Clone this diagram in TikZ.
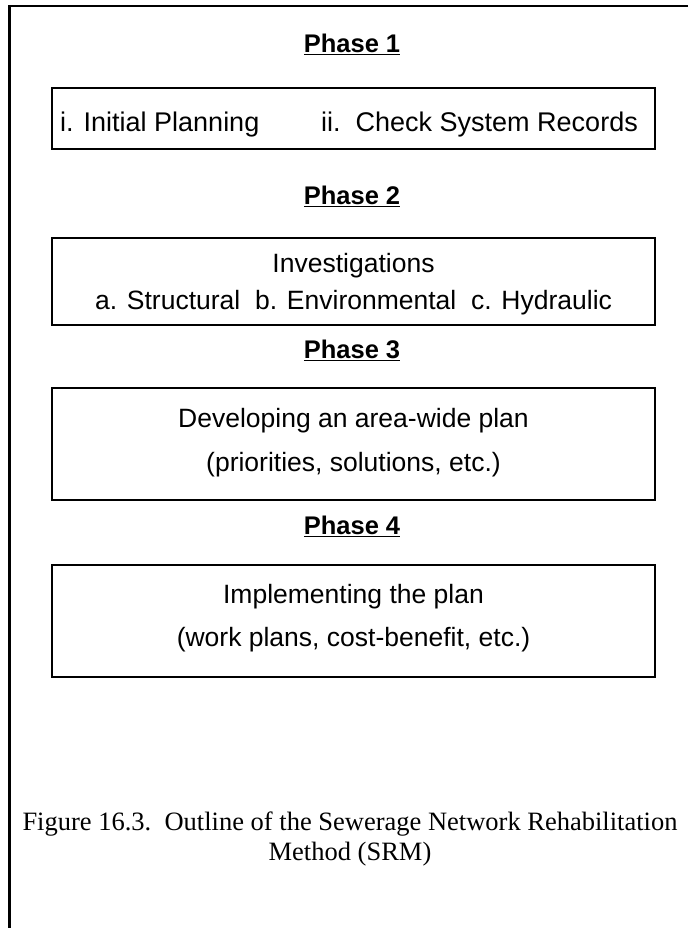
\documentclass[tikz,border=0pt]{standalone}
\usepackage{fontspec}
\setmainfont{Liberation Sans}
\newfontfamily\capfont{Liberation Serif}
\begin{document}
\begin{tikzpicture}[x=1pt,y=-1pt,
  phasebox/.style={draw=black,line width=1.6pt,minimum width=603pt,inner sep=0pt},
  phasetitle/.style={font=\fontsize{25.5}{30}\selectfont\bfseries,inner sep=0pt},
  body/.style={font=\fontsize{26.5}{30}\selectfont,inner sep=0pt,anchor=base},
  captext/.style={font=\capfont\fontsize{26.5}{30}\selectfont,inner sep=0pt,anchor=base}]
  \useasboundingbox (0,0) rectangle (688,928);
  % outer frame (top and left edges)
  \coordinate (ftr) at (688,6);
  \coordinate (ftl) at (9.5,6);
  \coordinate (fbl) at (9.5,928);
  \draw[line width=2.6pt] (ftr) -- (ftl) -- (fbl);

  % Phase 1
  \node[phasetitle] (t1) at (352,44) {\underline{Phase 1}};
  \node[phasebox,minimum height=61pt] (b1) at (353.5,118.5) {};
  \node[body,anchor=base west,font=\fontsize{27}{30}\selectfont] (b1a) at (60,132) {i. Initial Planning};
  \node[body,anchor=base east,font=\fontsize{27}{30}\selectfont] (b1b) at (638,132) {ii.\ \ Check System Records};

  % Phase 2
  \node[phasetitle] (t2) at (352,196) {\underline{Phase 2}};
  \node[phasebox,minimum height=87pt] (b2) at (353.5,281.5) {};
  \node[body] (b2a) at (353.5,272) {Investigations};
  \node[body] (b2b) at (353.5,309) {a. Structural\ \ b. Environmental\ \ c. Hydraulic};

  % Phase 3
  \node[phasetitle] (t3) at (352,350) {\underline{Phase 3}};
  \node[phasebox,minimum height=112pt] (b3) at (353.5,444) {};
  \node[body] (b3a) at (353.5,427) {Developing an area-wide plan};
  \node[body] (b3b) at (353.5,471) {(priorities, solutions, etc.)};

  % Phase 4
  \node[phasetitle] (t4) at (352,526) {\underline{Phase 4}};
  \node[phasebox,minimum height=112pt] (b4) at (353.5,621) {};
  \node[body] (b4a) at (353.5,603) {Implementing the plan};
  \node[body] (b4b) at (353.5,646) {(work plans, cost-benefit, etc.)};

  % caption
  \node[captext] (c1) at (350,830) {Figure 16.3.\ \ Outline of the Sewerage Network Rehabilitation};
  \node[captext] (c2) at (350,860) {Method (SRM)};
\end{tikzpicture}
\end{document}
